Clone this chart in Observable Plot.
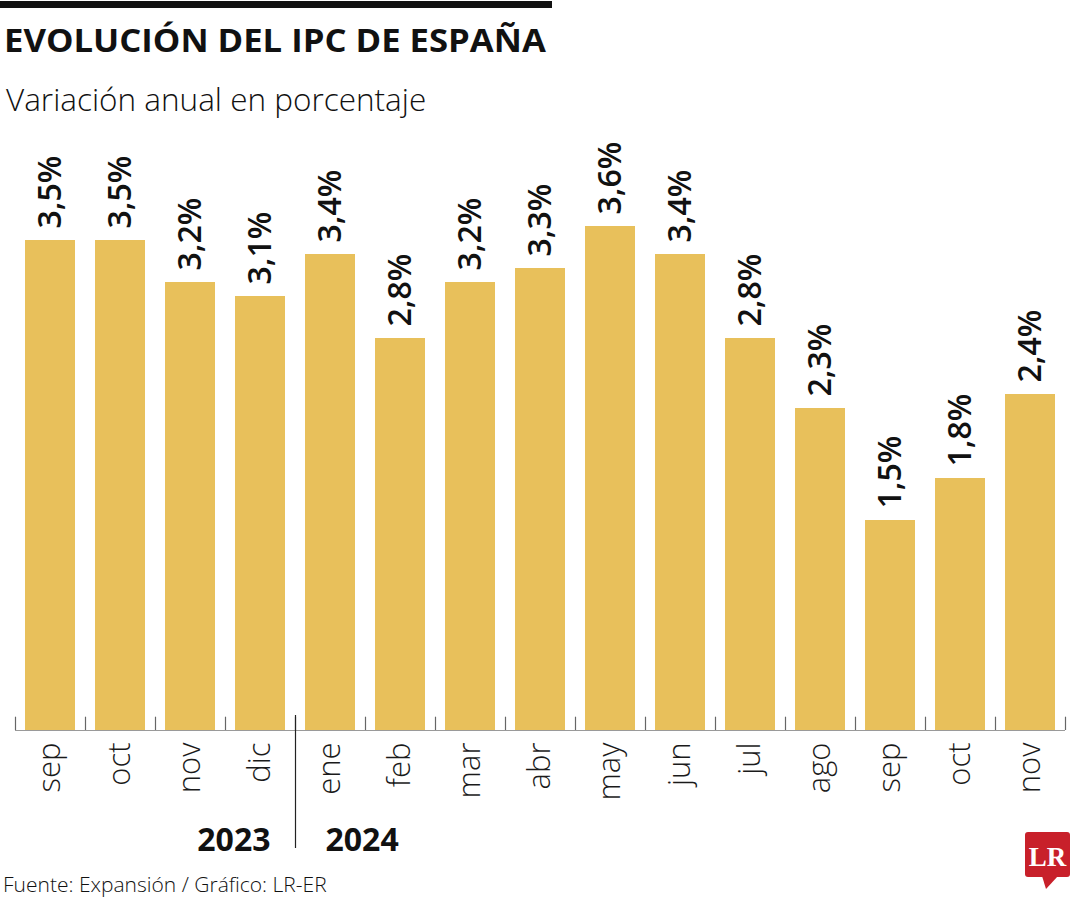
<!DOCTYPE html>
<html>
<head>
<meta charset="utf-8">
<script src="https://cdn.jsdelivr.net/npm/d3@7"></script>
<script src="https://cdn.jsdelivr.net/npm/@observablehq/plot@0.6"></script>
<style>
  html, body { margin: 0; padding: 0; background: #fff; }
  body { width: 1080px; height: 900px; position: relative; overflow: hidden; font-family: "Open Sans", sans-serif; color: #111; }
  #topbar { position: absolute; left: 0; top: 1px; width: 552px; height: 7px; background: #111; }
  #title { position: absolute; left: 4px; top: 23px; font-size: 33px; line-height: 33px; font-weight: 700; white-space: nowrap; transform-origin: 0 0; transform: scaleX(1.05); }
  #subtitle { position: absolute; left: 6px; top: 83px; font-size: 31.5px; line-height: 31.5px; font-weight: 300; white-space: nowrap; transform-origin: 0 0; }
  #chart { position: absolute; left: 0; top: 130px; }
  #source { position: absolute; left: 3px; top: 874px; font-size: 21px; line-height: 21px; font-weight: 300; white-space: nowrap; transform-origin: 0 0; }
  #logo { position: absolute; left: 1022px; top: 830px; }
</style>
</head>
<body>
<div id="topbar"></div>
<div id="title">EVOLUCIÓN DEL IPC DE ESPAÑA</div>
<div id="subtitle">Variación anual en porcentaje</div>
<div id="chart"></div>
<div id="source">Fuente: Expansión / Gráfico: LR-ER</div>
<svg id="logo" width="54" height="62" viewBox="0 0 54 62">
  <rect x="3" y="2" width="45" height="45" rx="3" fill="#C8202A"></rect>
  <polygon points="20,46 36,46 24,59" fill="#C8202A"></polygon>
  <text x="25.5" y="36" text-anchor="middle" font-family="Liberation Serif, DejaVu Serif, serif" font-weight="700" font-size="27" fill="#fff">LR</text>
</svg>
<script>
// ---- data ----
const years  = ["2023","2023","2023","2023","2024","2024","2024","2024","2024","2024","2024","2024","2024","2024","2024"];
const months = ["sep","oct","nov","dic","ene","feb","mar","abr","may","jun","jul","ago","sep","oct","nov"];
const values = [3.5, 3.5, 3.2, 3.1, 3.4, 2.8, 3.2, 3.3, 3.6, 3.4, 2.8, 2.3, 1.5, 1.8, 2.4];
const yearLabels = ["2023", "2024"];

const data = months.map((m, i) => ({
  key: `${years[i]}-${m}`,
  month: m,
  year: years[i],
  value: values[i],
  label: values[i].toFixed(1).replace(".", ",") + "%"
}));
const keys = data.map(d => d.key);
const firstOfYear = yearLabels.map(y => data.find(d => d.year === y));
const lastOfYear = yearLabels.map(y => data.filter(d => d.year === y).pop());

const barColor = "#E8C05B";
const step = 70;

const plot = Plot.plot({
  width: 1080,
  height: 730,
  marginTop: 40,
  marginBottom: 130,
  marginLeft: 15,
  marginRight: 15,
  x: { type: "band", domain: keys, paddingInner: 20 / 70, paddingOuter: 10 / 70, axis: null },
  y: { domain: [0, 4], axis: null },
  style: { fontFamily: "Open Sans, sans-serif", overflow: "visible", background: "transparent" },
  marks: [
    Plot.barY(data, { x: "key", y: "value", fill: barColor }),
    // baseline
    Plot.ruleY([0], { stroke: "#9a9a9a", strokeWidth: 1.2 }),
    // ticks at band boundaries
    Plot.ruleX(data, { x: "key", dx: -step / 2, y1: 0, y2: 0.095, stroke: "#666", strokeWidth: 1.2 }),
    Plot.ruleX([data[data.length - 1]], { x: "key", dx: step / 2, y1: 0, y2: 0.095, stroke: "#666", strokeWidth: 1.2 }),
    // year separator
    Plot.ruleX([firstOfYear[1]], { x: "key", dx: -step / 2, y1: 0.107, y2: -0.843, stroke: "#222", strokeWidth: 1.2 }),
    // value labels
    Plot.text(data, {
      x: "key", y: "value", text: "label", rotate: -90,
      textAnchor: "start", lineAnchor: "middle", dy: -12,
      fontSize: 32, fontWeight: 600, fill: "#111"
    }),
    // month labels
    Plot.text(data, {
      x: "key", frameAnchor: "bottom", text: "month", rotate: -90,
      textAnchor: "end", lineAnchor: "middle", dy: 12,
      fontSize: 31, fontWeight: 300, fill: "#1a1a1a"
    }),
    // year labels
    Plot.text([lastOfYear[0]], {
      x: "key", frameAnchor: "bottom", text: "year",
      textAnchor: "end", lineAnchor: "bottom", dx: 10, dy: 120,
      fontSize: 32, fontWeight: 700, fill: "#111"
    }),
    Plot.text([firstOfYear[1]], {
      x: "key", frameAnchor: "bottom", text: "year",
      textAnchor: "start", lineAnchor: "bottom", dx: -5, dy: 120,
      fontSize: 32, fontWeight: 700, fill: "#111"
    })
  ]
});
document.getElementById("chart").appendChild(plot);
</script>
</body>
</html>
